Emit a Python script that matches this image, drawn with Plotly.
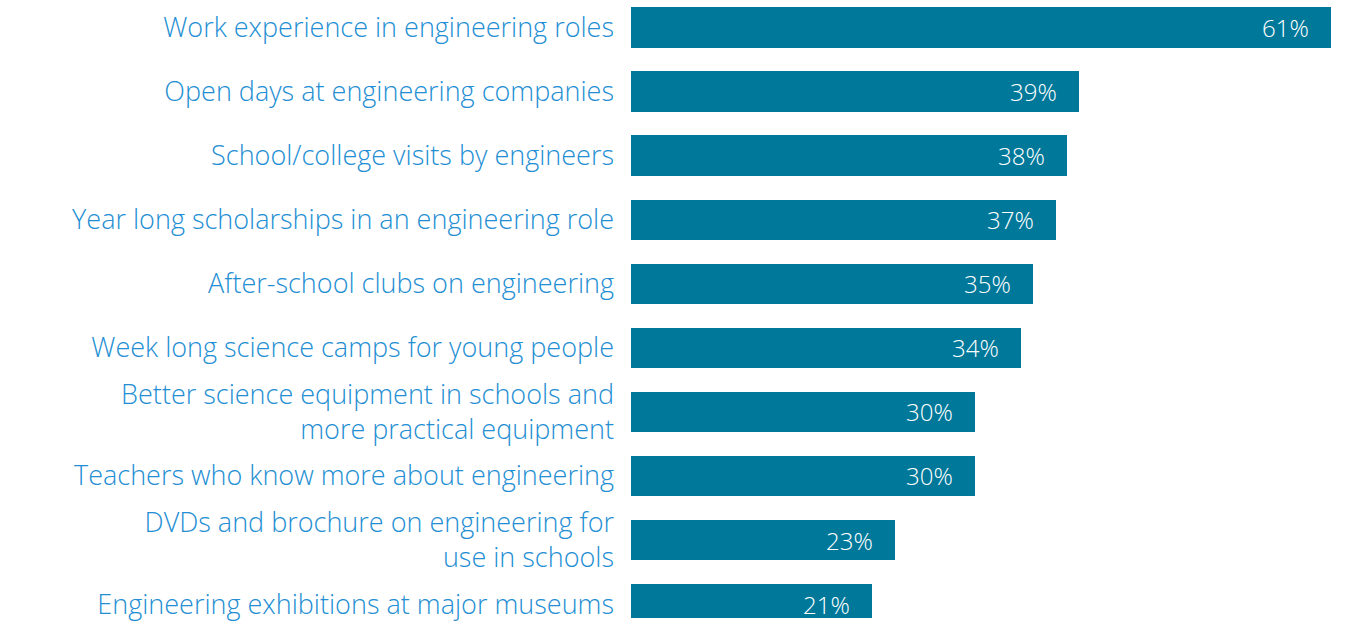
import plotly.graph_objects as go

categories = [
    "Work experience in engineering roles",
    "Open days at engineering companies",
    "School/college visits by engineers",
    "Year long scholarships in an engineering role",
    "After-school clubs on engineering",
    "Week long science camps for young people",
    "Better science equipment in schools and<br>more practical equipment",
    "Teachers who know more about engineering",
    "DVDs and brochure on engineering for<br>use in schools",
    "Engineering exhibitions at major museums",
]
values = [61, 39, 38, 37, 35, 34, 30, 30, 23, 21]
value_labels = [f"{v}%" for v in values]

BAR = "#00789a"
LABEL = "#238ed3"
FONT = "'Open Sans', 'Liberation Sans', Arial, sans-serif"

positions = list(range(len(categories)))

fig = go.Figure(
    go.Bar(
        x=values,
        y=positions,
        orientation="h",
        marker=dict(color=BAR, line=dict(width=0)),
        width=0.63,
        hoverinfo="skip",
    )
)

for pos, v, lab in zip(positions, values, value_labels):
    fig.add_annotation(
        x=v, y=pos, xref="x", yref="y",
        text=lab, showarrow=False,
        xanchor="right", yanchor="middle", xshift=-20,
        font=dict(family=FONT, size=24, color="white", weight=300),
    )

fig.update_layout(
    width=1352,
    height=621,
    margin=dict(l=631, r=21, t=0, b=0),
    paper_bgcolor="white",
    plot_bgcolor="white",
    showlegend=False,
    bargap=0,
    xaxis=dict(
        range=[0, 61], visible=False, fixedrange=True,
    ),
    yaxis=dict(
        range=[9.217, -0.430],
        tickmode="array",
        tickvals=positions,
        ticktext=categories,
        ticks="",
        ticklabelstandoff=16,
        ticklabeloverflow="allow",
        showgrid=False,
        zeroline=False,
        showline=False,
        tickfont=dict(family=FONT, size=27, color=LABEL, weight=300),
        fixedrange=True,
    ),
)

fig.write_html("out.html")
